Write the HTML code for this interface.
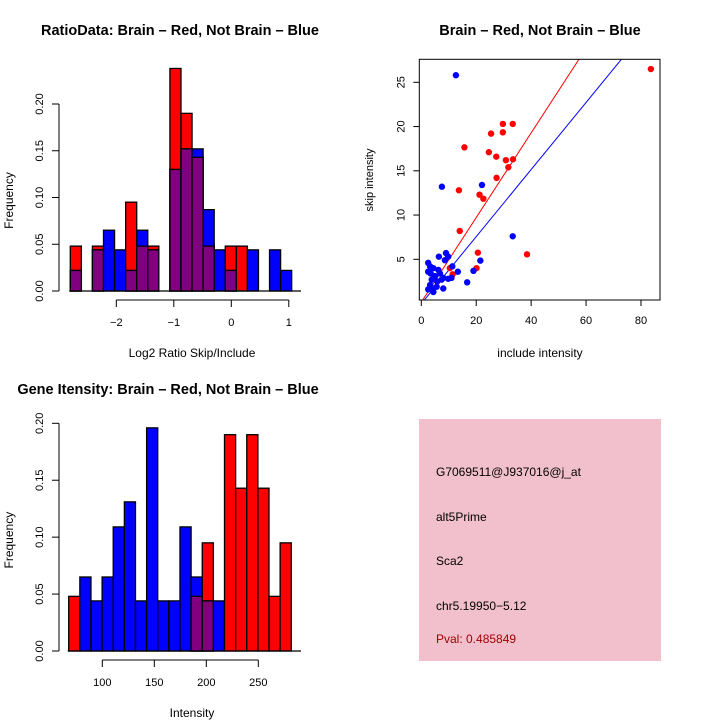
<!DOCTYPE html>
<html><head><meta charset="utf-8"><style>
body{margin:0;background:#fff;}
svg{display:block;font-family:"Liberation Sans",sans-serif;}
</style></head><body>
<svg id="c" width="720" height="720" xmlns="http://www.w3.org/2000/svg">
<rect width="720" height="720" fill="#fff"/>
</svg>
<script>
// ---- data ----
const ratioBinStarts = [-2.8,-2.6075,-2.415,-2.2225,-2.03,-1.8375,-1.645,-1.4525,-1.26,-1.0675,-0.875,-0.6825,-0.49,-0.2975,-0.105,0.0875,0.28,0.4725,0.665,0.8575];
const ratioRed  = [0.048,0,0.048,0,0,0.095,0.048,0.048,0,0.238,0.19,0.143,0.048,0,0.048,0.048,0,0,0,0];
const ratioBlue = [0.022,0,0.044,0.065,0.044,0.022,0.065,0.044,0,0.13,0.152,0.152,0.087,0.044,0.022,0,0.044,0,0.044,0.022];
const ratioXTicks = [-2,-1,0,1];
const freqTicks = ["0.00","0.05","0.10","0.15","0.20"];
const intBinStarts = [67.7,78.4,89.1,99.8,110.5,121.2,131.9,142.6,153.3,164,174.7,185.4,196.1,206.8,217.5,228.2,238.9,249.6,260.3,271];
const intRed  = [0.048,0,0,0,0,0,0,0,0,0,0,0.048,0.095,0,0.19,0.143,0.19,0.143,0.048,0.095];
const intBlue = [0,0.065,0.044,0.065,0.109,0.131,0.044,0.196,0.044,0.044,0.109,0.065,0.044,0.044,0,0,0,0,0,0];
const intXTicks = [100,150,200,250];
const redX = [83.6,29.7,33.3,25.4,29.7,15.7,24.6,27.3,30.8,33.4,31.7,27.4,13.7,21.2,22.6,14,38.5,20.6,20.1,10.4,11.4];
const redY = [26.5,20.3,20.3,19.2,19.35,17.65,17.1,16.6,16.2,16.3,15.4,14.2,12.8,12.3,11.85,8.2,5.56,5.75,4,4,3.3];
const blueX = [12.6,7.5,22.1,33.3,21.5,19,16.7,13.3,2.5,3.2,4.4,6.2,6.4,9,9.8,8.6,11.3,8,9.8,11,2.5,3.8,3.2,4.4,2.5,4.4,5.6,8,5,6.8,3.4,7.4,5.8];
const blueY = [25.8,13.2,13.4,7.6,4.85,3.7,2.4,3.6,4.6,4.2,4,3.8,5.3,5.7,5.3,4.9,4.2,2.9,2.8,2.9,3.6,2.7,2.1,1.7,1.6,1.3,1.9,1.7,3.1,3.4,3.4,2.7,2.5];
const scXTicks = [0,20,40,60,80];
const scYTicks = [5,10,15,20,25];
const redFit = [0.16,0.478];   // intercept, slope
const blueFit = [-0.02,0.379];

const NS="http://www.w3.org/2000/svg";
const svg=document.getElementById('c');
function mk(tag,attrs,parent){const e=document.createElementNS(NS,tag);for(const k in attrs)e.setAttribute(k,attrs[k]);(parent||svg).appendChild(e);return e;}
function txt(s,x,y,opt,parent){const e=mk('text',Object.assign({x:x,y:y,'font-size':12,fill:'#000'},opt||{}),parent);e.textContent=s;return e;}

function hist(cfg){
  const g=mk('g',{});
  
  
  const X=v=>cfg.x0+(v-cfg.xv0)*cfg.xs;
  const Y=v=>cfg.y0-v*cfg.ys;
  const w=cfg.bw*cfg.xs;
  for(let i=0;i<cfg.starts.length;i++){
    const x=X(cfg.starts[i]);const r=cfg.red[i],b=cfg.blue[i];
    if(r>0){const e=mk('rect',{x:x,y:Y(r),width:w,height:r*cfg.ys,fill:'#ff0000',stroke:'#000','stroke-width':1.3},g);
      }
    if(b>0){const e=mk('rect',{x:x,y:Y(b),width:w,height:b*cfg.ys,fill:'#0000ff',stroke:'#000','stroke-width':1.3},g);
      }
    const m=Math.min(r,b);
    if(m>0){const e=mk('rect',{x:x,y:Y(m),width:w,height:m*cfg.ys,fill:'#800080',stroke:'#000','stroke-width':1.3},g);
      }
  }
  const ya=mk('g',{},g);
  
  mk('line',{x1:cfg.yax,x2:cfg.yax,y1:Y(0),y2:Y(0.2),stroke:'#000'},ya);
  freqTicks.forEach(t=>{const y=Y(parseFloat(t));mk('line',{x1:cfg.yax,x2:cfg.yax-7,y1:y,y2:y,stroke:'#000'},ya);
    txt(t,cfg.yax-16,y,{transform:`rotate(-90 ${cfg.yax-16} ${y})`,'text-anchor':'middle','font-size':11},ya);});
  mk('line',{x1:X(cfg.starts[0])-1,x2:cfg.baseEnd,y1:Y(0),y2:Y(0),stroke:'#000','stroke-width':1.3},g);
  const xa=mk('g',{},g);
  
  const ay=Y(0)+9;
  mk('line',{x1:X(cfg.ticks[0]),x2:X(cfg.ticks[cfg.ticks.length-1]),y1:ay,y2:ay,stroke:'#000'},xa);
  cfg.ticks.forEach(t=>{const x=X(t);mk('line',{x1:x,x2:x,y1:ay,y2:ay+7,stroke:'#000'},xa);
    txt(String(t).replace('-','\u2212'),x,ay+26,{'text-anchor':'middle','font-size':11},xa);});
  const xt=txt(cfg.xlab,(cfg.yax+cfg.baseEnd)/2+12,Y(0)+66,{'text-anchor':'middle'},g);
  
  const yt=txt('Frequency',13,(Y(0)+Y(0.2))/2+3,{transform:`rotate(-90 13 ${(Y(0)+Y(0.2))/2+3})`,'text-anchor':'middle'},g);
  
  const ti=txt(cfg.title,cfg.tx,cfg.ty,{'text-anchor':'middle','font-weight':'bold','font-size':14.5},g);
  
}

hist({name:'ratio-histogram',starts:ratioBinStarts,red:ratioRed,blue:ratioBlue,bw:0.1925,
  x0:116.3,xv0:-2,xs:57.5,y0:291,ys:935,yax:59,baseEnd:301,ticks:ratioXTicks,
  xlab:'Log2 Ratio Skip/Include',title:'RatioData: Brain \u2013 Red, Not Brain \u2013 Blue',tx:180,ty:35});
hist({name:'intensity-histogram',starts:intBinStarts,red:intRed,blue:intBlue,bw:10.7,
  x0:102.3,xv0:100,xs:1.04,y0:651,ys:1138.5,yax:59,baseEnd:301,ticks:intXTicks,
  xlab:'Intensity',title:'Gene Itensity: Brain \u2013 Red, Not Brain \u2013 Blue',tx:168,ty:394});

// scatter
(function(){
  const g=mk('g',{});
  
  const X=v=>421.3+v*2.746;
  const Y=v=>259.3-(v-5)*8.85;
  const L=419.3,R=660,T=59.3,B=300;
  const cp=mk('clipPath',{id:'clipSc'},g);mk('rect',{x:L,y:T,width:R-L,height:B-T},cp);
  const fitLine=(f,col,name)=>{const e=mk('line',{x1:X(0),y1:Y(f[0]),x2:X(90),y2:Y(f[0]+f[1]*90),stroke:col,'stroke-width':1,'clip-path':'url(#clipSc)'},g);
    };
  fitLine(redFit,'#ff0000','red-fit-line');
  fitLine(blueFit,'#0000ff','blue-fit-line');
  redX.forEach((x,i)=>{const e=mk('circle',{cx:X(x),cy:Y(redY[i]),r:3.2,fill:'#ff0000'},g);
    });
  blueX.forEach((x,i)=>{const e=mk('circle',{cx:X(x),cy:Y(blueY[i]),r:3.2,fill:'#0000ff'},g);
    });
  mk('rect',{x:L,y:T,width:R-L,height:B-T,fill:'none',stroke:'#000'},g);
  const xa=mk('g',{},g);
  scXTicks.forEach(t=>{const x=X(t);mk('line',{x1:x,x2:x,y1:B,y2:B+6,stroke:'#000'},xa);txt(String(t),x,B+24,{'text-anchor':'middle','font-size':11},xa);});
  mk('line',{x1:X(0),x2:X(80),y1:B,y2:B,stroke:'#000'},xa);
  const ya=mk('g',{},g);
  scYTicks.forEach(t=>{const y=Y(t);mk('line',{x1:L,x2:L-6,y1:y,y2:y,stroke:'#000'},ya);
    txt(String(t),L-15,y,{transform:`rotate(-90 ${L-15} ${y})`,'text-anchor':'middle','font-size':11},ya);});
  const xt=txt('include intensity',540,357,{'text-anchor':'middle'},g);
  
  const yt=txt('skip intensity',373,180,{transform:'rotate(-90 373 180)','text-anchor':'middle','font-size':11},g);
  
  const ti=txt('Brain \u2013 Red, Not Brain \u2013 Blue',540,35,{'text-anchor':'middle','font-weight':'bold','font-size':14.5},g);
  
})();

// info panel
(function(){
  const g=mk('g',{});
  
  mk('rect',{x:419,y:419,width:242,height:242,fill:'#f2c0cc'},g);
  const lines=[['G7069511@J937016@j_at',476,'#000','probe-id'],['alt5Prime',521,'#000','event-type'],['Sca2',565,'#000','gene-name'],['chr5.19950\u22125.12',610,'#000','location'],['Pval: 0.485849',643,'#a00000','p-value']];
  lines.forEach(l=>{const e=txt(l[0],436,l[1],{fill:l[2],'font-size':12},g);
    });
})();
</script>
</body></html>
